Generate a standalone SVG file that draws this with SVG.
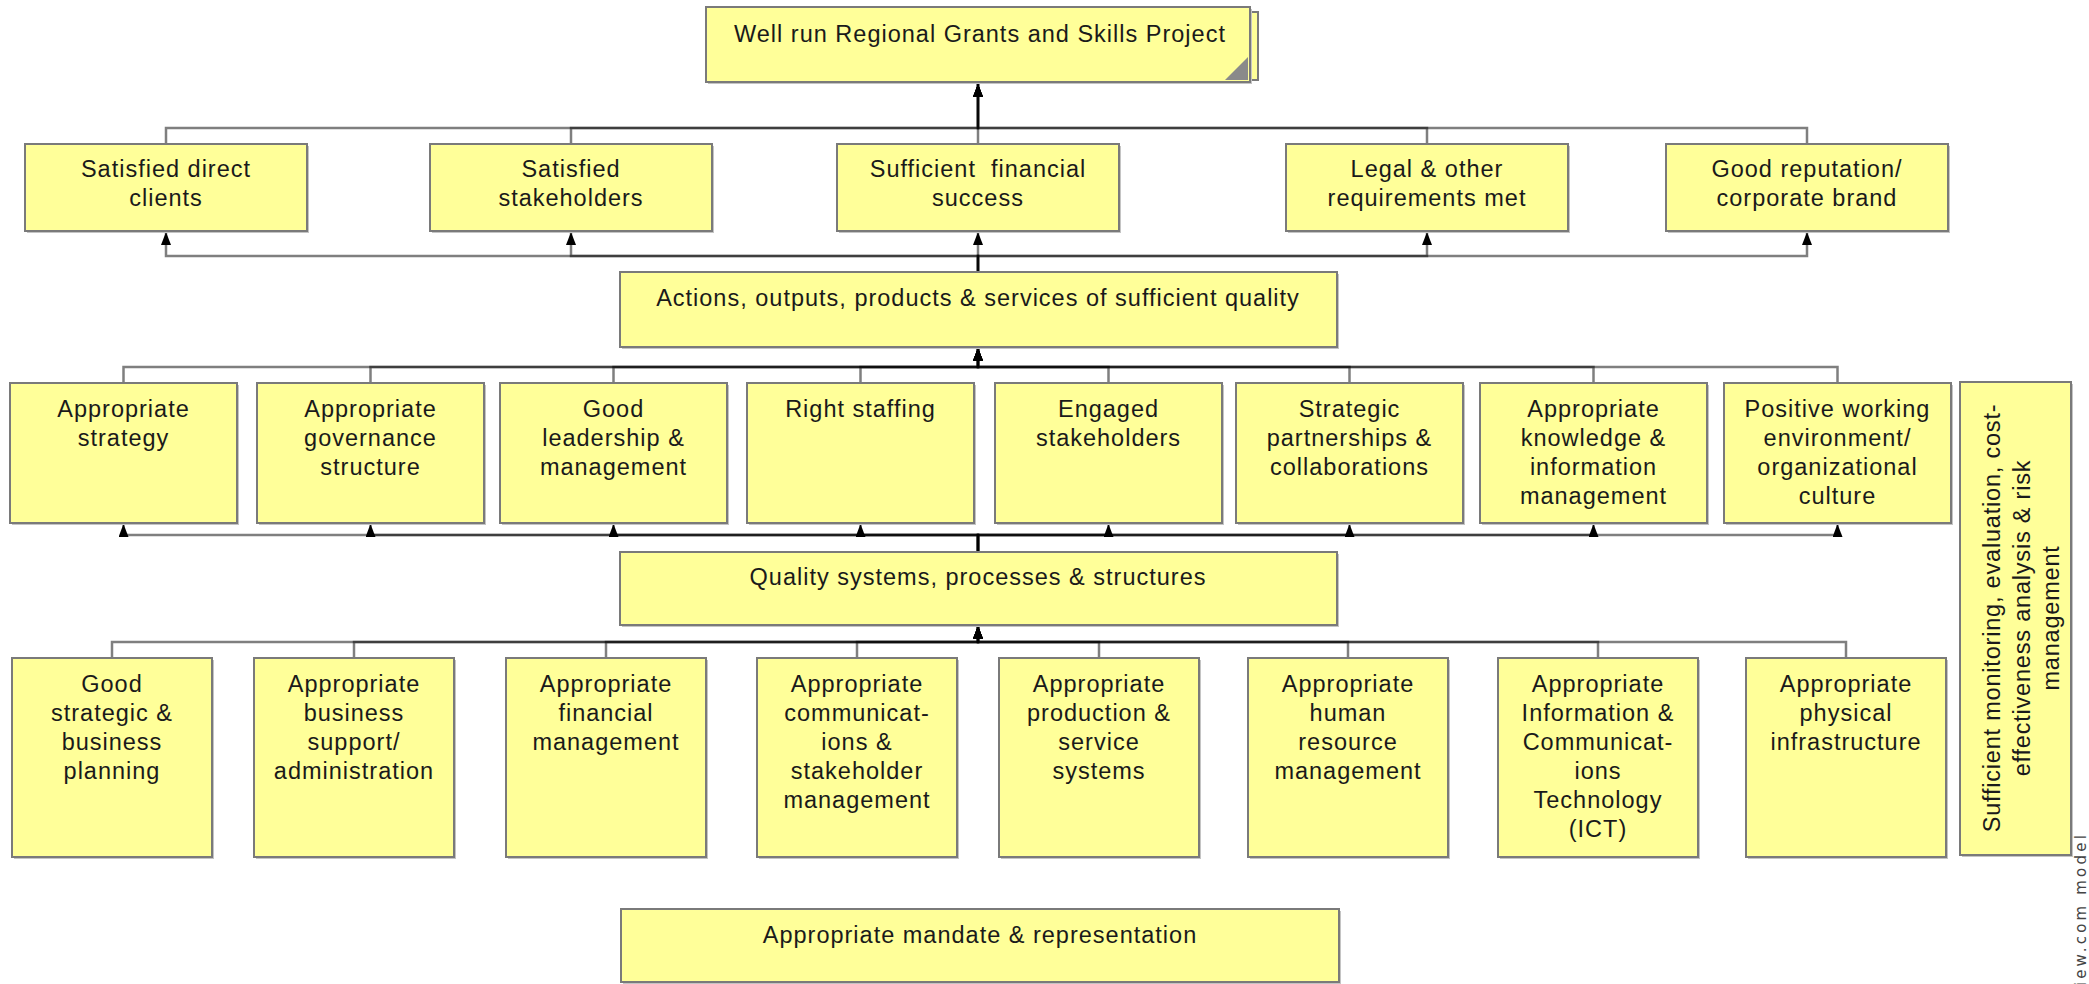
<svg xmlns="http://www.w3.org/2000/svg" width="2089" height="984" viewBox="0 0 2089 984">
<defs>
<marker id="arr" markerUnits="userSpaceOnUse" viewBox="0 0 13 10" markerWidth="13" markerHeight="10" refX="13" refY="5" orient="auto">
<path d="M0,0 L13,5 L0,10 z" fill="#000"/>
</marker>
</defs>
<style>
.box{fill:#FFFF99;stroke:#7a7a7a;stroke-width:2}
.sh{fill:#c4c4c4}
.t{font-family:"Liberation Sans",Arial,sans-serif;font-size:23.5px;fill:#1a1a1a;text-anchor:middle;letter-spacing:1px}
.v{font-family:"Liberation Sans",Arial,sans-serif;font-size:23.5px;fill:#1a1a1a;text-anchor:middle;letter-spacing:0.8px}
.c{fill:none;stroke:#000;stroke-opacity:0.5;stroke-width:2.5;marker-end:url(#arr)}
.wm{font-family:"DejaVu Sans",sans-serif;font-size:15px;fill:#444;text-anchor:end;letter-spacing:3.2px}
</style>
<rect width="2089" height="984" fill="#fff"/>

<g id="connectors">
<!-- row 2 to title -->
<path class="c" d="M166,144 V128 H978 V84"/>
<path class="c" d="M571,144 V128 H978 V84"/>
<path class="c" d="M978,144 V84"/>
<path class="c" d="M1427,144 V128 H978 V84"/>
<path class="c" d="M1807,144 V128 H978 V84"/>
<!-- actions to row 2 -->
<path class="c" d="M978,272 V256 H166 V232"/>
<path class="c" d="M978,272 V256 H571 V232"/>
<path class="c" d="M978,272 V232"/>
<path class="c" d="M978,272 V256 H1427 V232"/>
<path class="c" d="M978,272 V256 H1807 V232"/>
<!-- row 3 to actions -->
<path class="c" d="M123.5,383 V367 H978 V348"/>
<path class="c" d="M370.5,383 V367 H978 V348"/>
<path class="c" d="M613.5,383 V367 H978 V348"/>
<path class="c" d="M860.5,383 V367 H978 V348"/>
<path class="c" d="M1108.5,383 V367 H978 V348"/>
<path class="c" d="M1349.5,383 V367 H978 V348"/>
<path class="c" d="M1593.5,383 V367 H978 V348"/>
<path class="c" d="M1837.5,383 V367 H978 V348"/>
<!-- quality to row 3 -->
<path class="c" d="M978,552 V535 H123.5 V524"/>
<path class="c" d="M978,552 V535 H370.5 V524"/>
<path class="c" d="M978,552 V535 H613.5 V524"/>
<path class="c" d="M978,552 V535 H860.5 V524"/>
<path class="c" d="M978,552 V535 H1108.5 V524"/>
<path class="c" d="M978,552 V535 H1349.5 V524"/>
<path class="c" d="M978,552 V535 H1593.5 V524"/>
<path class="c" d="M978,552 V535 H1837.5 V524"/>
<!-- row 4 to quality -->
<path class="c" d="M112,658 V642 H978 V626"/>
<path class="c" d="M354,658 V642 H978 V626"/>
<path class="c" d="M606,658 V642 H978 V626"/>
<path class="c" d="M857,658 V642 H978 V626"/>
<path class="c" d="M1099,658 V642 H978 V626"/>
<path class="c" d="M1348,658 V642 H978 V626"/>
<path class="c" d="M1598,658 V642 H978 V626"/>
<path class="c" d="M1846,658 V642 H978 V626"/>
</g>

<g id="n-title">
<rect class="box" x="712" y="12" width="546" height="68"/>
<rect class="sh" x="708" y="9" width="544" height="75"/>
<rect class="box" x="706" y="7" width="544" height="75"/>
<polygon points="1248,57 1248,80 1225,80" fill="#8a8a8a"/>
<text class="t" x="980" y="42">Well run Regional Grants and Skills Project</text>
</g>

<g id="n-clients">
<rect class="sh" x="27" y="146" width="282" height="87"/>
<rect class="box" x="25" y="144" width="282" height="87"/>
<text class="t" x="166" y="177">Satisfied direct<tspan x="166" dy="29">clients</tspan></text>
</g>
<g id="n-stakeholders">
<rect class="sh" x="432" y="146" width="282" height="87"/>
<rect class="box" x="430" y="144" width="282" height="87"/>
<text class="t" x="571" y="177">Satisfied<tspan x="571" dy="29">stakeholders</tspan></text>
</g>
<g id="n-financial">
<rect class="sh" x="839" y="146" width="282" height="87"/>
<rect class="box" x="837" y="144" width="282" height="87"/>
<text class="t" x="978" y="177" xml:space="preserve">Sufficient  financial<tspan x="978" dy="29">success</tspan></text>
</g>
<g id="n-legal">
<rect class="sh" x="1288" y="146" width="282" height="87"/>
<rect class="box" x="1286" y="144" width="282" height="87"/>
<text class="t" x="1427" y="177">Legal &amp; other<tspan x="1427" dy="29">requirements met</tspan></text>
</g>
<g id="n-reputation">
<rect class="sh" x="1668" y="146" width="282" height="87"/>
<rect class="box" x="1666" y="144" width="282" height="87"/>
<text class="t" x="1807" y="177">Good reputation/<tspan x="1807" dy="29">corporate brand</tspan></text>
</g>

<g id="n-actions">
<rect class="sh" x="622" y="274" width="717" height="75"/>
<rect class="box" x="620" y="272" width="717" height="75"/>
<text class="t" x="978" y="306">Actions, outputs, products &amp; services of sufficient quality</text>
</g>

<g id="n-strategy">
<rect class="sh" x="12" y="385" width="227" height="140"/>
<rect class="box" x="10" y="383" width="227" height="140"/>
<text class="t" x="123.5" y="417">Appropriate<tspan x="123.5" dy="29">strategy</tspan></text>
</g>
<g id="n-governance">
<rect class="sh" x="259" y="385" width="227" height="140"/>
<rect class="box" x="257" y="383" width="227" height="140"/>
<text class="t" x="370.5" y="417">Appropriate<tspan x="370.5" dy="29">governance</tspan><tspan x="370.5" dy="29">structure</tspan></text>
</g>
<g id="n-leadership">
<rect class="sh" x="502" y="385" width="227" height="140"/>
<rect class="box" x="500" y="383" width="227" height="140"/>
<text class="t" x="613.5" y="417">Good<tspan x="613.5" dy="29">leadership &amp;</tspan><tspan x="613.5" dy="29">management</tspan></text>
</g>
<g id="n-staffing">
<rect class="sh" x="749" y="385" width="227" height="140"/>
<rect class="box" x="747" y="383" width="227" height="140"/>
<text class="t" x="860.5" y="417">Right staffing</text>
</g>
<g id="n-engaged">
<rect class="sh" x="997" y="385" width="227" height="140"/>
<rect class="box" x="995" y="383" width="227" height="140"/>
<text class="t" x="1108.5" y="417">Engaged<tspan x="1108.5" dy="29">stakeholders</tspan></text>
</g>
<g id="n-partnerships">
<rect class="sh" x="1238" y="385" width="227" height="140"/>
<rect class="box" x="1236" y="383" width="227" height="140"/>
<text class="t" x="1349.5" y="417">Strategic<tspan x="1349.5" dy="29">partnerships &amp;</tspan><tspan x="1349.5" dy="29">collaborations</tspan></text>
</g>
<g id="n-knowledge">
<rect class="sh" x="1482" y="385" width="227" height="140"/>
<rect class="box" x="1480" y="383" width="227" height="140"/>
<text class="t" x="1593.5" y="417">Appropriate<tspan x="1593.5" dy="29">knowledge &amp;</tspan><tspan x="1593.5" dy="29">information</tspan><tspan x="1593.5" dy="29">management</tspan></text>
</g>
<g id="n-environment">
<rect class="sh" x="1726" y="385" width="227" height="140"/>
<rect class="box" x="1724" y="383" width="227" height="140"/>
<text class="t" x="1837.5" y="417">Positive working<tspan x="1837.5" dy="29">environment/</tspan><tspan x="1837.5" dy="29">organizational</tspan><tspan x="1837.5" dy="29">culture</tspan></text>
</g>

<g id="n-quality">
<rect class="sh" x="622" y="554" width="717" height="73"/>
<rect class="box" x="620" y="552" width="717" height="73"/>
<text class="t" x="978" y="585">Quality systems, processes &amp; structures</text>
</g>

<g id="n-planning">
<rect class="sh" x="14" y="660" width="200" height="199"/>
<rect class="box" x="12" y="658" width="200" height="199"/>
<text class="t" x="112" y="692">Good<tspan x="112" dy="29">strategic &amp;</tspan><tspan x="112" dy="29">business</tspan><tspan x="112" dy="29">planning</tspan></text>
</g>
<g id="n-admin">
<rect class="sh" x="256" y="660" width="200" height="199"/>
<rect class="box" x="254" y="658" width="200" height="199"/>
<text class="t" x="354" y="692">Appropriate<tspan x="354" dy="29">business</tspan><tspan x="354" dy="29">support/</tspan><tspan x="354" dy="29">administration</tspan></text>
</g>
<g id="n-finmgmt">
<rect class="sh" x="508" y="660" width="200" height="199"/>
<rect class="box" x="506" y="658" width="200" height="199"/>
<text class="t" x="606" y="692">Appropriate<tspan x="606" dy="29">financial</tspan><tspan x="606" dy="29">management</tspan></text>
</g>
<g id="n-comms">
<rect class="sh" x="759" y="660" width="200" height="199"/>
<rect class="box" x="757" y="658" width="200" height="199"/>
<text class="t" x="857" y="692">Appropriate<tspan x="857" dy="29">communicat-</tspan><tspan x="857" dy="29">ions &amp;</tspan><tspan x="857" dy="29">stakeholder</tspan><tspan x="857" dy="29">management</tspan></text>
</g>
<g id="n-production">
<rect class="sh" x="1001" y="660" width="200" height="199"/>
<rect class="box" x="999" y="658" width="200" height="199"/>
<text class="t" x="1099" y="692">Appropriate<tspan x="1099" dy="29">production &amp;</tspan><tspan x="1099" dy="29">service</tspan><tspan x="1099" dy="29">systems</tspan></text>
</g>
<g id="n-hr">
<rect class="sh" x="1250" y="660" width="200" height="199"/>
<rect class="box" x="1248" y="658" width="200" height="199"/>
<text class="t" x="1348" y="692">Appropriate<tspan x="1348" dy="29">human</tspan><tspan x="1348" dy="29">resource</tspan><tspan x="1348" dy="29">management</tspan></text>
</g>
<g id="n-ict">
<rect class="sh" x="1500" y="660" width="200" height="199"/>
<rect class="box" x="1498" y="658" width="200" height="199"/>
<text class="t" x="1598" y="692">Appropriate<tspan x="1598" dy="29">Information &amp;</tspan><tspan x="1598" dy="29">Communicat-</tspan><tspan x="1598" dy="29">ions</tspan><tspan x="1598" dy="29">Technology</tspan><tspan x="1598" dy="29">(ICT)</tspan></text>
</g>
<g id="n-infrastructure">
<rect class="sh" x="1748" y="660" width="200" height="199"/>
<rect class="box" x="1746" y="658" width="200" height="199"/>
<text class="t" x="1846" y="692">Appropriate<tspan x="1846" dy="29">physical</tspan><tspan x="1846" dy="29">infrastructure</tspan></text>
</g>

<g id="n-mandate">
<rect class="sh" x="623" y="911" width="718" height="73"/>
<rect class="box" x="621" y="909" width="718" height="73"/>
<text class="t" x="980" y="943">Appropriate mandate &amp; representation</text>
</g>

<g id="n-monitoring">
<rect class="sh" x="1962" y="384" width="111" height="473"/>
<rect class="box" x="1960" y="382" width="111" height="473"/>
<text class="v" transform="translate(2000,618) rotate(-90)" x="0" y="0">Sufficient monitoring, evaluation, cost-<tspan x="0" dy="29.5">effectiveness analysis &amp; risk</tspan><tspan x="0" dy="29.5">management</tspan></text>
</g>

<text class="wm" transform="translate(2086,832) rotate(-90)" x="0" y="0">iew.com model</text>
</svg>
